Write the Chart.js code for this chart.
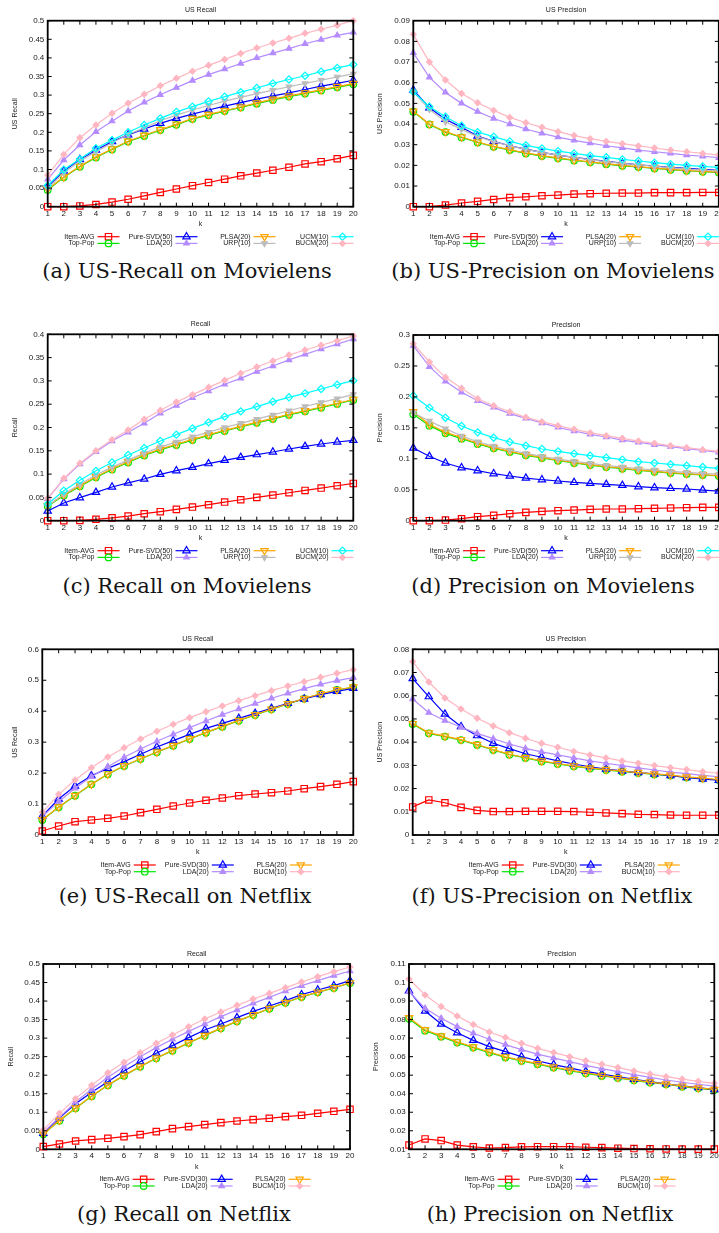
<!DOCTYPE html>
<html>
<head>
<meta charset="utf-8">
<script src="https://cdn.jsdelivr.net/npm/chart.js@4.4.1/dist/chart.umd.min.js"></script>
<style>
  html, body { margin: 0; padding: 0; background: #fff; overflow: hidden; }
  #page { position: relative; width: 719px; height: 1233px; overflow: hidden; background: #fff; }
  #page canvas { position: absolute; }
  .cap { position: absolute; width: 440px; text-align: center; font-family: "DejaVu Serif", serif;
         font-size: 21px; line-height: 24px; color: #151515; white-space: nowrap; }
</style>
</head>
<body>
<div id="page"></div>
<script>
// ---- top-N cut-off ----
const k = ['1', '2', '3', '4', '5', '6', '7', '8', '9', '10', '11', '12', '13', '14', '15', '16', '17', '18', '19', '20'];

// ---- series names ----
const mlSeriesNames = ['Item-AVG', 'Top-Pop', 'Pure-SVD(50)', 'LDA(20)', 'PLSA(20)', 'URP(10)', 'UCM(10)', 'BUCM(20)'];
const nfSeriesNames = ['Item-AVG', 'Top-Pop', 'Pure-SVD(30)', 'LDA(20)', 'PLSA(20)', 'BUCM(10)'];

// ---- (a) US-Recall, Movielens ----
const mlUsRecallItemAvg = [0, 0, 0.002, 0.006, 0.0125, 0.02, 0.029, 0.0385, 0.0475, 0.0565, 0.065, 0.074, 0.083, 0.0905, 0.098, 0.106, 0.115, 0.121, 0.129, 0.138];
const mlUsRecallTopPop = [0.045, 0.079, 0.1075, 0.1325, 0.154, 0.175, 0.19, 0.206, 0.22, 0.236, 0.246, 0.257, 0.267, 0.277, 0.287, 0.296, 0.304, 0.3125, 0.321, 0.329];
const mlUsRecallPureSvd = [0.054, 0.096, 0.127, 0.152, 0.175, 0.193, 0.209, 0.224, 0.2375, 0.249, 0.26, 0.2705, 0.28, 0.289, 0.298, 0.306, 0.315, 0.324, 0.3315, 0.34];
const mlUsRecallLda = [0.0735, 0.1255, 0.166, 0.2015, 0.23, 0.257, 0.2805, 0.301, 0.32, 0.339, 0.355, 0.37, 0.385, 0.4, 0.413, 0.425, 0.438, 0.449, 0.4605, 0.4685];
const mlUsRecallPlsa = [0.047, 0.08, 0.109, 0.134, 0.155, 0.176, 0.192, 0.207, 0.222, 0.237, 0.248, 0.258, 0.268, 0.279, 0.289, 0.298, 0.306, 0.314, 0.323, 0.331];
const mlUsRecallUrp = [0.049, 0.091, 0.123, 0.148, 0.172, 0.194, 0.212, 0.231, 0.246, 0.26, 0.272, 0.284, 0.294, 0.304, 0.3135, 0.3225, 0.3315, 0.34, 0.349, 0.357];
const mlUsRecallUcm = [0.057, 0.0995, 0.128, 0.157, 0.179, 0.2, 0.2195, 0.2375, 0.255, 0.269, 0.283, 0.296, 0.308, 0.319, 0.3315, 0.342, 0.352, 0.363, 0.373, 0.382];
const mlUsRecallBucm = [0.085, 0.1405, 0.1855, 0.2195, 0.251, 0.278, 0.302, 0.325, 0.345, 0.364, 0.38, 0.396, 0.412, 0.4265, 0.44, 0.4525, 0.466, 0.477, 0.488, 0.5];
const mlUsRecallTicks = [0, 0.05, 0.1, 0.15, 0.2, 0.25, 0.3, 0.35, 0.4, 0.45, 0.5];

// ---- (b) US-Precision, Movielens ----
const mlUsPrecisionItemAvg = [0, 0, 0.0008, 0.0018, 0.0026, 0.0035, 0.0044, 0.0048, 0.0053, 0.0056, 0.0061, 0.0063, 0.0065, 0.0066, 0.0066, 0.0068, 0.0068, 0.0068, 0.0069, 0.0069];
const mlUsPrecisionTopPop = [0.046, 0.0398, 0.0361, 0.0335, 0.0311, 0.029, 0.0274, 0.0258, 0.0245, 0.0234, 0.0224, 0.0215, 0.0206, 0.0198, 0.0192, 0.0185, 0.0179, 0.0174, 0.0169, 0.0165];
const mlUsPrecisionPureSvd = [0.0565, 0.0479, 0.0423, 0.0384, 0.0342, 0.0316, 0.0295, 0.0279, 0.0263, 0.025, 0.0239, 0.0229, 0.0219, 0.0211, 0.0203, 0.0197, 0.019, 0.0185, 0.0181, 0.0176];
const mlUsPrecisionLda = [0.0745, 0.0626, 0.0553, 0.05, 0.046, 0.0427, 0.04, 0.0376, 0.0355, 0.0337, 0.0321, 0.0308, 0.0295, 0.0285, 0.0274, 0.0266, 0.0258, 0.025, 0.0244, 0.0237];
const mlUsPrecisionPlsa = [0.0462, 0.04, 0.0363, 0.0337, 0.0313, 0.0292, 0.0276, 0.026, 0.0247, 0.0236, 0.0226, 0.0217, 0.0208, 0.02, 0.0194, 0.0187, 0.0181, 0.0176, 0.0171, 0.0167];
const mlUsPrecisionUrp = [0.0556, 0.0471, 0.0411, 0.0374, 0.0339, 0.0315, 0.0294, 0.0277, 0.0263, 0.025, 0.0239, 0.0227, 0.0218, 0.021, 0.0203, 0.0195, 0.0189, 0.0182, 0.0177, 0.0173];
const mlUsPrecisionUcm = [0.0556, 0.0484, 0.0435, 0.0392, 0.0361, 0.0339, 0.0316, 0.0297, 0.0282, 0.0269, 0.0258, 0.0247, 0.0239, 0.0229, 0.0221, 0.0213, 0.0206, 0.02, 0.0195, 0.019];
const mlUsPrecisionBucm = [0.0834, 0.07, 0.0613, 0.0548, 0.0503, 0.0466, 0.0432, 0.0406, 0.0384, 0.0363, 0.0344, 0.0329, 0.0316, 0.0305, 0.0294, 0.0284, 0.0274, 0.0266, 0.0258, 0.025];
const mlUsPrecisionTicks = [0, 0.01, 0.02, 0.03, 0.04, 0.05, 0.06, 0.07, 0.08, 0.09];

// ---- (c) Recall, Movielens ----
const mlRecallItemAvg = [0, 0, 0.0007, 0.003, 0.006, 0.01, 0.015, 0.0193, 0.0243, 0.0293, 0.0343, 0.04, 0.045, 0.05, 0.055, 0.06, 0.065, 0.07, 0.075, 0.08];
const mlRecallTopPop = [0.031, 0.054, 0.0737, 0.093, 0.11, 0.125, 0.14, 0.152, 0.1625, 0.173, 0.183, 0.1925, 0.201, 0.21, 0.218, 0.227, 0.2347, 0.2425, 0.2505, 0.259];
const mlRecallPureSvd = [0.0207, 0.038, 0.0494, 0.0608, 0.0723, 0.081, 0.0894, 0.0995, 0.1073, 0.1145, 0.1224, 0.1295, 0.136, 0.1417, 0.1474, 0.1538, 0.1596, 0.1646, 0.1689, 0.1724];
const mlRecallLda = [0.0472, 0.0894, 0.1216, 0.148, 0.171, 0.1896, 0.209, 0.2304, 0.2469, 0.264, 0.2784, 0.2927, 0.3055, 0.32, 0.332, 0.345, 0.357, 0.3685, 0.379, 0.39];
const mlRecallPlsa = [0.032, 0.0555, 0.075, 0.0945, 0.1115, 0.1265, 0.1415, 0.1535, 0.164, 0.1745, 0.1845, 0.194, 0.2025, 0.2115, 0.2195, 0.2285, 0.236, 0.244, 0.252, 0.26];
const mlRecallUrp = [0.032, 0.057, 0.078, 0.098, 0.115, 0.13, 0.145, 0.158, 0.169, 0.18, 0.19, 0.2, 0.209, 0.218, 0.227, 0.236, 0.245, 0.254, 0.262, 0.271];
const mlRecallUcm = [0.0358, 0.0644, 0.0866, 0.107, 0.125, 0.141, 0.156, 0.171, 0.1846, 0.198, 0.211, 0.2233, 0.2347, 0.2447, 0.2555, 0.2648, 0.2733, 0.2826, 0.292, 0.3005];
const mlRecallBucm = [0.048, 0.0909, 0.1231, 0.1503, 0.1739, 0.1946, 0.2175, 0.2369, 0.2547, 0.2705, 0.2862, 0.3012, 0.3163, 0.3299, 0.3428, 0.3556, 0.3664, 0.3764, 0.3864, 0.3964];
const mlRecallTicks = [0, 0.05, 0.1, 0.15, 0.2, 0.25, 0.3, 0.35, 0.4];

// ---- (d) Precision, Movielens ----
const mlPrecisionItemAvg = [0, 0, 0.001, 0.0032, 0.0065, 0.0086, 0.0113, 0.0135, 0.0151, 0.0162, 0.0172, 0.0183, 0.0189, 0.0189, 0.0194, 0.02, 0.0205, 0.021, 0.0215, 0.0215];
const mlPrecisionTopPop = [0.1718, 0.1535, 0.1411, 0.1325, 0.1239, 0.1169, 0.111, 0.1056, 0.1013, 0.0969, 0.0932, 0.0899, 0.0867, 0.084, 0.0813, 0.0792, 0.077, 0.0754, 0.0738, 0.0722];
const mlPrecisionPureSvd = [0.1174, 0.104, 0.0932, 0.0856, 0.0808, 0.0759, 0.0722, 0.0689, 0.0662, 0.0641, 0.0619, 0.0603, 0.0587, 0.0571, 0.0549, 0.0533, 0.0522, 0.0512, 0.0495, 0.0479];
const mlPrecisionLda = [0.2828, 0.2488, 0.2251, 0.2074, 0.1939, 0.1831, 0.1729, 0.1653, 0.1578, 0.1508, 0.1449, 0.1395, 0.1352, 0.1303, 0.1266, 0.1228, 0.1196, 0.1163, 0.1136, 0.1104];
const mlPrecisionPlsa = [0.176, 0.1556, 0.143, 0.134, 0.1252, 0.118, 0.112, 0.1066, 0.1022, 0.0978, 0.094, 0.0906, 0.0874, 0.0847, 0.082, 0.0798, 0.0776, 0.076, 0.0744, 0.0728];
const mlPrecisionUrp = [0.1745, 0.161, 0.1487, 0.1368, 0.1276, 0.1206, 0.1142, 0.1088, 0.1039, 0.0996, 0.0959, 0.0926, 0.0894, 0.0867, 0.084, 0.0819, 0.0797, 0.0781, 0.0765, 0.0749];
const mlPrecisionUcm = [0.202, 0.1826, 0.1664, 0.153, 0.1427, 0.1341, 0.1271, 0.1212, 0.1158, 0.112, 0.1083, 0.105, 0.1018, 0.0986, 0.0953, 0.0932, 0.091, 0.0889, 0.0867, 0.0846];
const mlPrecisionBucm = [0.286, 0.2564, 0.2316, 0.2138, 0.1971, 0.1858, 0.1761, 0.167, 0.16, 0.1535, 0.1476, 0.1422, 0.1373, 0.133, 0.1287, 0.125, 0.1212, 0.1179, 0.1147, 0.112];
const mlPrecisionTicks = [0, 0.05, 0.1, 0.15, 0.2, 0.25, 0.3];

// ---- (e) US-Recall, Netflix ----
const nfUsRecallItemAvg = [0.0129, 0.029, 0.0431, 0.0485, 0.0539, 0.0614, 0.0722, 0.0829, 0.0937, 0.1034, 0.112, 0.1196, 0.1271, 0.1325, 0.1368, 0.1422, 0.1497, 0.1562, 0.1637, 0.1724];
const nfUsRecallTopPop = [0.0485, 0.0894, 0.1271, 0.1637, 0.1961, 0.223, 0.2456, 0.2672, 0.2887, 0.3102, 0.3307, 0.3501, 0.3695, 0.3878, 0.4061, 0.4234, 0.4406, 0.4557, 0.4686, 0.4772];
const nfUsRecallPureSvd = [0.0614, 0.1163, 0.1584, 0.1917, 0.2154, 0.237, 0.2607, 0.2844, 0.3049, 0.3253, 0.3447, 0.3609, 0.377, 0.3932, 0.4094, 0.4255, 0.4395, 0.4535, 0.4643, 0.474];
const nfUsRecallLda = [0.0592, 0.1077, 0.1508, 0.1885, 0.2208, 0.251, 0.2779, 0.3027, 0.3253, 0.3469, 0.3684, 0.3889, 0.4072, 0.4244, 0.4417, 0.4578, 0.4729, 0.4869, 0.4988, 0.5085];
const nfUsRecallPlsa = [0.0495, 0.0904, 0.128, 0.1645, 0.1968, 0.2238, 0.2463, 0.268, 0.2895, 0.311, 0.3315, 0.351, 0.3702, 0.3885, 0.4068, 0.424, 0.4412, 0.4563, 0.4692, 0.478];
const nfUsRecallBucm = [0.0733, 0.1314, 0.1777, 0.2176, 0.2521, 0.2822, 0.3102, 0.335, 0.3576, 0.3792, 0.3986, 0.4169, 0.4341, 0.4503, 0.4664, 0.4815, 0.4955, 0.5095, 0.5225, 0.5343];
const nfUsRecallTicks = [0, 0.1, 0.2, 0.3, 0.4, 0.5, 0.6];

// ---- (f) US-Precision, Netflix ----
const nfUsPrecisionItemAvg = [0.0121, 0.0151, 0.0139, 0.0119, 0.0106, 0.0101, 0.0101, 0.0102, 0.0102, 0.0102, 0.0101, 0.0098, 0.0095, 0.0092, 0.0089, 0.0088, 0.0086, 0.0085, 0.0085, 0.0085];
const nfUsPrecisionTopPop = [0.0478, 0.0438, 0.0424, 0.0409, 0.0388, 0.0366, 0.0346, 0.0332, 0.0317, 0.0306, 0.0296, 0.0287, 0.028, 0.0273, 0.0267, 0.0261, 0.0256, 0.0248, 0.0243, 0.0237];
const nfUsPrecisionPureSvd = [0.0674, 0.0596, 0.0521, 0.0467, 0.0428, 0.0395, 0.0372, 0.035, 0.0335, 0.0319, 0.0306, 0.0294, 0.0284, 0.0276, 0.0269, 0.0263, 0.0256, 0.0248, 0.0241, 0.0236];
const nfUsPrecisionLda = [0.0586, 0.0527, 0.0493, 0.0464, 0.0438, 0.0415, 0.0392, 0.0373, 0.0358, 0.0345, 0.0332, 0.0319, 0.0309, 0.0299, 0.0289, 0.028, 0.0271, 0.0264, 0.0257, 0.0251];
const nfUsPrecisionPlsa = [0.048, 0.044, 0.0426, 0.0411, 0.039, 0.0368, 0.0348, 0.0334, 0.0319, 0.0308, 0.0298, 0.0289, 0.0282, 0.0275, 0.0269, 0.0263, 0.0258, 0.025, 0.0245, 0.0239];
const nfUsPrecisionBucm = [0.0747, 0.0659, 0.059, 0.0543, 0.0503, 0.047, 0.0441, 0.0417, 0.0395, 0.0378, 0.036, 0.0345, 0.0332, 0.0319, 0.0309, 0.0299, 0.029, 0.0282, 0.0273, 0.0266];
const nfUsPrecisionTicks = [0, 0.01, 0.02, 0.03, 0.04, 0.05, 0.06, 0.07, 0.08];

// ---- (g) Recall, Netflix ----
const nfRecallItemAvg = [0.0072, 0.0144, 0.0225, 0.0261, 0.0297, 0.0342, 0.0396, 0.0477, 0.0558, 0.0612, 0.0665, 0.0719, 0.0764, 0.08, 0.0836, 0.0881, 0.0917, 0.0971, 0.1025, 0.1079];
const nfRecallTopPop = [0.0405, 0.0773, 0.1106, 0.143, 0.1727, 0.1987, 0.223, 0.2455, 0.2662, 0.2869, 0.3067, 0.3264, 0.3453, 0.3624, 0.3795, 0.3957, 0.411, 0.4236, 0.4353, 0.4487];
const nfRecallPureSvd = [0.0432, 0.0845, 0.1232, 0.1538, 0.1826, 0.2113, 0.2365, 0.259, 0.2797, 0.3013, 0.3219, 0.3381, 0.3552, 0.3723, 0.3867, 0.4011, 0.4173, 0.4299, 0.4415, 0.455];
const nfRecallLda = [0.0459, 0.0863, 0.1277, 0.1619, 0.1942, 0.223, 0.25, 0.2743, 0.2968, 0.3183, 0.3381, 0.3579, 0.3759, 0.3939, 0.4101, 0.4272, 0.4415, 0.455, 0.4685, 0.4811];
const nfRecallPlsa = [0.0415, 0.0782, 0.1115, 0.1438, 0.1735, 0.1995, 0.2238, 0.2462, 0.2669, 0.2876, 0.3074, 0.327, 0.3459, 0.363, 0.38, 0.3962, 0.4115, 0.4242, 0.4358, 0.4492];
const nfRecallBucm = [0.0522, 0.0971, 0.1367, 0.1727, 0.2068, 0.2347, 0.2608, 0.286, 0.3085, 0.3309, 0.3516, 0.3705, 0.3885, 0.4056, 0.4209, 0.4362, 0.4514, 0.4658, 0.4793, 0.4919];
const nfRecallTicks = [0, 0.05, 0.1, 0.15, 0.2, 0.25, 0.3, 0.35, 0.4, 0.45, 0.5];

// ---- (h) Precision, Netflix ----
const nfPrecisionItemAvg = [0.0123, 0.0156, 0.0147, 0.0123, 0.0113, 0.0107, 0.0109, 0.0113, 0.0114, 0.0114, 0.0114, 0.0111, 0.0109, 0.0106, 0.0104, 0.0103, 0.0102, 0.0101, 0.0101, 0.0101];
const nfPrecisionTopPop = [0.0805, 0.074, 0.0708, 0.0676, 0.0649, 0.0622, 0.0596, 0.0577, 0.0559, 0.0541, 0.0524, 0.051, 0.0496, 0.0485, 0.0472, 0.046, 0.0451, 0.0438, 0.0429, 0.042];
const nfPrecisionPureSvd = [0.0956, 0.0846, 0.0776, 0.0729, 0.0688, 0.0654, 0.0627, 0.06, 0.0578, 0.0557, 0.0539, 0.0521, 0.0506, 0.0492, 0.0478, 0.0465, 0.0453, 0.0442, 0.0433, 0.0422];
const nfPrecisionLda = [0.0951, 0.0861, 0.0807, 0.0762, 0.0726, 0.0694, 0.0665, 0.0638, 0.0614, 0.0593, 0.0573, 0.0553, 0.0535, 0.0519, 0.0503, 0.0488, 0.0474, 0.0462, 0.0451, 0.0441];
const nfPrecisionPlsa = [0.081, 0.0745, 0.0712, 0.068, 0.0652, 0.0625, 0.0599, 0.058, 0.0562, 0.0544, 0.0527, 0.0513, 0.0499, 0.0487, 0.0475, 0.0463, 0.0453, 0.0441, 0.0431, 0.0423];
const nfPrecisionBucm = [0.1019, 0.0933, 0.087, 0.0819, 0.0773, 0.0733, 0.0703, 0.0672, 0.0645, 0.0622, 0.06, 0.0578, 0.0559, 0.0541, 0.0523, 0.0506, 0.0492, 0.0479, 0.0467, 0.0456];
const nfPrecisionTicks = [0.01, 0.02, 0.03, 0.04, 0.05, 0.06, 0.07, 0.08, 0.09, 0.1, 0.11];

// ---- marker / colour per method (gnuplot-like point types) ----
const methodStyle = {
  itemAvg: { color: '#ff0000', pointStyle: 'rect',     radius: 4.5, rotation: 0,   filled: false },
  topPop:  { color: '#00e600', pointStyle: 'circle',   radius: 3.3, rotation: 0,   filled: false },
  pureSvd: { color: '#0000ff', pointStyle: 'triangle', radius: 4.2, rotation: 0,   filled: false },
  lda:     { color: '#b48cff', pointStyle: 'triangle', radius: 3.2, rotation: 0,   filled: true  },
  plsa:    { color: '#ffa500', pointStyle: 'triangle', radius: 4.2, rotation: 180, filled: false },
  urp:     { color: '#bcbcbc', pointStyle: 'triangle', radius: 3.2, rotation: 180, filled: true  },
  ucm:     { color: '#00ffff', pointStyle: 'rectRot',  radius: 3.6, rotation: 0,   filled: false },
  bucm:    { color: '#ffb6c1', pointStyle: 'rectRot',  radius: 2.9, rotation: 0,   filled: true  }
};
const mlKeys = ['itemAvg', 'topPop', 'pureSvd', 'lda', 'plsa', 'urp', 'ucm', 'bucm'];
const nfKeys = ['itemAvg', 'topPop', 'pureSvd', 'lda', 'plsa', 'bucm'];

// ---- panel table: plot rectangle in page pixels [left, top, right, bottom] ----
const panels = [
  { title: 'US Recall', yTitle: 'US Recall', ticks: mlUsRecallTicks, names: mlSeriesNames, keys: mlKeys,
    series: [mlUsRecallItemAvg, mlUsRecallTopPop, mlUsRecallPureSvd, mlUsRecallLda, mlUsRecallPlsa, mlUsRecallUrp, mlUsRecallUcm, mlUsRecallBucm],
    area: [47.7, 20.7, 353.3, 206.7], yTitleX: 15, caption: '(a) US-Recall on Movielens', capX: 187, capY: 271.7 },
  { title: 'US Precision', yTitle: 'US Precision', ticks: mlUsPrecisionTicks, names: mlSeriesNames, keys: mlKeys,
    series: [mlUsPrecisionItemAvg, mlUsPrecisionTopPop, mlUsPrecisionPureSvd, mlUsPrecisionLda, mlUsPrecisionPlsa, mlUsPrecisionUrp, mlUsPrecisionUcm, mlUsPrecisionBucm],
    area: [413.3, 20.7, 718.8, 206.7], yTitleX: 380, caption: '(b) US-Precision on Movielens', capX: 553, capY: 271.7 },
  { title: 'Recall', yTitle: 'Recall', ticks: mlRecallTicks, names: mlSeriesNames, keys: mlKeys,
    series: [mlRecallItemAvg, mlRecallTopPop, mlRecallPureSvd, mlRecallLda, mlRecallPlsa, mlRecallUrp, mlRecallUcm, mlRecallBucm],
    area: [47.7, 334.3, 353.3, 520.7], yTitleX: 15, caption: '(c) Recall on Movielens', capX: 187, capY: 586.7 },
  { title: 'Precision', yTitle: 'Precision', ticks: mlPrecisionTicks, names: mlSeriesNames, keys: mlKeys,
    series: [mlPrecisionItemAvg, mlPrecisionTopPop, mlPrecisionPureSvd, mlPrecisionLda, mlPrecisionPlsa, mlPrecisionUrp, mlPrecisionUcm, mlPrecisionBucm],
    area: [413.3, 335, 718.8, 520.7], yTitleX: 380, caption: '(d) Precision on Movielens', capX: 553, capY: 586.7 },
  { title: 'US Recall', yTitle: 'US Recall', ticks: nfUsRecallTicks, names: nfSeriesNames, keys: nfKeys,
    series: [nfUsRecallItemAvg, nfUsRecallTopPop, nfUsRecallPureSvd, nfUsRecallLda, nfUsRecallPlsa, nfUsRecallBucm],
    area: [42.3, 649.3, 353.3, 835], yTitleX: 15, caption: '(e) US-Recall on Netflix', capX: 185, capY: 897 },
  { title: 'US Precision', yTitle: 'US Precision', ticks: nfUsPrecisionTicks, names: nfSeriesNames, keys: nfKeys,
    series: [nfUsPrecisionItemAvg, nfUsPrecisionTopPop, nfUsPrecisionPureSvd, nfUsPrecisionLda, nfUsPrecisionPlsa, nfUsPrecisionBucm],
    area: [412.7, 649.3, 718.8, 835], yTitleX: 380, caption: '(f) US-Precision on Netflix', capX: 552, capY: 897 },
  { title: 'Recall', yTitle: 'Recall', ticks: nfRecallTicks, names: nfSeriesNames, keys: nfKeys,
    series: [nfRecallItemAvg, nfRecallTopPop, nfRecallPureSvd, nfRecallLda, nfRecallPlsa, nfRecallBucm],
    area: [43.3, 964, 350, 1149.3], yTitleX: 11, caption: '(g) Recall on Netflix', capX: 184, capY: 1215 },
  { title: 'Precision', yTitle: 'Precision', ticks: nfPrecisionTicks, names: nfSeriesNames, keys: nfKeys,
    series: [nfPrecisionItemAvg, nfPrecisionTopPop, nfPrecisionPureSvd, nfPrecisionLda, nfPrecisionPlsa, nfPrecisionBucm],
    area: [409, 964, 714.3, 1149.3], yTitleX: 375.7, caption: '(h) Precision on Netflix', capX: 550, capY: 1215 }
];

const FONT = '"Liberation Sans", Arial, Helvetica, sans-serif';
const INK = '#1a1a1a';
Chart.defaults.font.family = FONT;
Chart.defaults.color = INK;

// marker drawing shared by plot and key
function drawMarker(ctx, st, x, y) {
  if (Chart.helpers && Chart.helpers.drawPoint) {
    Chart.helpers.drawPoint(ctx, { pointStyle: st.pointStyle, radius: st.radius, rotation: st.rotation, borderWidth: ctx.lineWidth }, x, y);
    return;
  }
  const r = st.radius;
  ctx.beginPath();
  if (st.pointStyle === 'rect') {
    const s = r * Math.SQRT1_2; ctx.rect(x - s, y - s, 2 * s, 2 * s);
  } else if (st.pointStyle === 'circle') {
    ctx.arc(x, y, r, 0, Math.PI * 2);
  } else if (st.pointStyle === 'rectRot') {
    ctx.moveTo(x, y - r); ctx.lineTo(x + r, y); ctx.lineTo(x, y + r); ctx.lineTo(x - r, y); ctx.closePath();
  } else {
    let a = st.rotation * Math.PI / 180;
    for (let i = 0; i < 3; i++) {
      const px = x + Math.sin(a) * r, py = y - Math.cos(a) * r;
      if (i === 0) ctx.moveTo(px, py); else ctx.lineTo(px, py);
      a += 2 * Math.PI / 3;
    }
    ctx.closePath();
  }
  ctx.fill(); ctx.stroke();
}

// frame with inward ticks on all four sides
const framePlugin = {
  id: 'gpFrame',
  afterDatasetsDraw(chart) {
    const { ctx, chartArea: a, scales: { x, y } } = chart;
    ctx.save();
    ctx.strokeStyle = '#000';
    ctx.lineWidth = 1;
    ctx.beginPath();
    x.ticks.forEach((t, i) => {
      const px = x.getPixelForTick(i);
      ctx.moveTo(px, a.bottom); ctx.lineTo(px, a.bottom - 4);
      ctx.moveTo(px, a.top); ctx.lineTo(px, a.top + 4);
    });
    y.ticks.forEach((t, i) => {
      const py = y.getPixelForTick(i);
      ctx.moveTo(a.left, py); ctx.lineTo(a.left + 4, py);
      ctx.moveTo(a.right, py); ctx.lineTo(a.right - 4, py);
    });
    ctx.stroke();
    ctx.lineWidth = 1.8;
    ctx.strokeRect(a.left, a.top, a.right - a.left, a.bottom - a.top);
    ctx.restore();
  }
};

// key below the plot: two rows, columns filled top-to-bottom
const keyPlugin = {
  id: 'gpKey',
  afterDraw(chart, args, opts) {
    const { ctx, chartArea: a } = chart;
    const sets = chart.data.datasets;
    const cols = Math.ceil(sets.length / 2);
    const colW = 78;
    const x0 = (a.left + a.right) / 2 - cols * colW / 2;
    ctx.save();
    sets.forEach((ds, i) => {
      const st = opts.styles[i];
      const cl = x0 + Math.floor(i / 2) * colW;
      const y = a.bottom + 30 + (i % 2) * 6.7;
      ctx.font = '7px ' + FONT;
      ctx.fillStyle = INK;
      ctx.textAlign = 'right';
      ctx.textBaseline = 'middle';
      ctx.fillText(ds.label, cl + 50, y);
      ctx.strokeStyle = st.color;
      ctx.lineWidth = 1.2;
      ctx.beginPath(); ctx.moveTo(cl + 53, y); ctx.lineTo(cl + 75, y); ctx.stroke();
      ctx.fillStyle = st.filled ? st.color : 'rgba(0,0,0,0)';
      drawMarker(ctx, st, cl + 64, y);
    });
    ctx.restore();
  }
};

const page = document.getElementById('page');

panels.forEach(p => {
  const [L, T, R, B] = p.area;
  const cx = L < 360 ? 0 : 360;
  const cw = cx === 0 ? 360 : 380;
  const cy = Math.floor(T) - 21;
  const xh = 21.5;
  const ch = Math.ceil(B - cy + xh + 26);
  const canvas = document.createElement('canvas');
  canvas.width = cw; canvas.height = ch;
  canvas.style.left = cx + 'px'; canvas.style.top = cy + 'px';
  canvas.style.width = cw + 'px'; canvas.style.height = ch + 'px';
  page.appendChild(canvas);

  const topBlock = T - cy;
  const titleTop = topBlock - 10.3 - 4.2;
  const styles = p.keys.map(key => methodStyle[key]);
  const n = p.series.length;

  const datasets = p.series.map((vals, i) => {
    const st = styles[i];
    return {
      label: p.names[i],
      data: vals,
      borderColor: st.color,
      backgroundColor: st.color,
      borderWidth: 1.2,
      pointStyle: st.pointStyle,
      pointRotation: st.rotation,
      pointRadius: st.radius,
      pointHoverRadius: st.radius,
      pointBorderWidth: 1.2,
      pointBorderColor: st.color,
      pointBackgroundColor: st.filled ? st.color : 'rgba(0,0,0,0)',
      tension: 0,
      clip: false,
      order: n - i
    };
  });

  new Chart(canvas, {
    type: 'line',
    data: { labels: k, datasets },
    options: {
      responsive: false,
      animation: false,
      devicePixelRatio: 1,
      events: [],
      layout: { padding: { left: 0, top: 0, right: cw - (R - cx), bottom: ch - (B - cy) - xh } },
      plugins: {
        legend: { display: false },
        tooltip: { enabled: false },
        title: {
          display: true, text: p.title, fullSize: false, color: INK,
          font: { size: 7, weight: 'normal', family: FONT },
          padding: { top: titleTop, bottom: topBlock - titleTop - 8.4 }
        },
        gpKey: { styles }
      },
      scales: {
        x: {
          type: 'category', offset: false,
          grid: { display: false, drawTicks: false },
          border: { display: false },
          ticks: { font: { size: 8 }, color: INK, padding: 1.8, maxRotation: 0, autoSkip: false },
          title: { display: true, text: 'k', color: INK, font: { size: 7 }, padding: { top: 0, bottom: 0 } },
          afterFit: s => { s.height = xh; }
        },
        y: {
          type: 'linear',
          min: p.ticks[0], max: p.ticks[p.ticks.length - 1],
          grid: { display: false, drawTicks: false },
          border: { display: false },
          afterBuildTicks: s => { s.ticks = p.ticks.map(v => ({ value: v })); },
          ticks: { font: { size: 8 }, color: INK, padding: 3.4, callback: v => String(v) },
          title: { display: true, text: p.yTitle, color: INK, font: { size: 7 }, padding: { top: p.yTitleX - cx - 4.2, bottom: 0 } },
          afterFit: s => { s.width = L - cx; }
        }
      }
    },
    plugins: [framePlugin, keyPlugin]
  });

  const cap = document.createElement('div');
  cap.className = 'cap';
  cap.textContent = p.caption;
  cap.style.left = (p.capX - 220) + 'px';
  cap.style.top = (p.capY - 12.8) + 'px';
  page.appendChild(cap);
});
</script>
</body>
</html>
